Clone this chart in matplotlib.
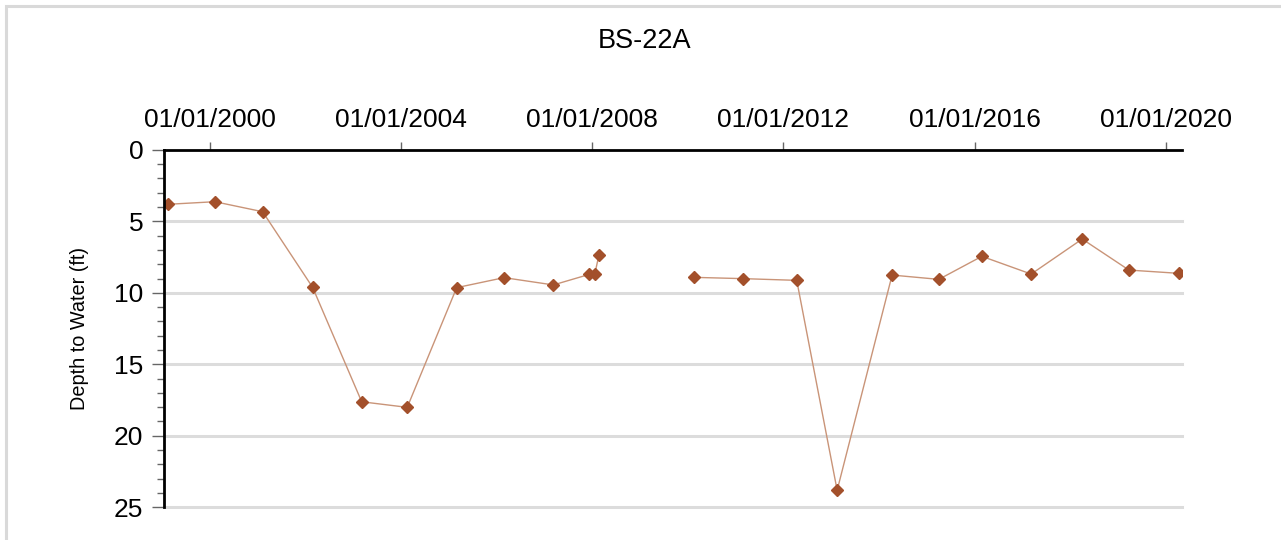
import numpy as np
import pandas as pd
import matplotlib
matplotlib.use("Agg")
import matplotlib.pyplot as plt
import matplotlib.dates as mdates
from matplotlib.patches import Rectangle
from matplotlib.ticker import MultipleLocator

plt.rcParams['font.family'] = ['Liberation Sans', 'DejaVu Sans']

title = "BS-22A"
ylabel = "Depth to Water (ft)"

dates = ["1999-02-16", "2000-02-08", "2001-02-07", "2002-02-24", "2003-03-06",
         "2004-02-17", "2005-03-01", "2006-02-26", "2007-03-10", "2007-12-10",
         "2008-01-20", "2008-02-22",
         "2010-02-17", "2011-03-01", "2012-04-12", "2013-02-15", "2014-04-11",
         "2015-04-03", "2016-02-26", "2017-03-09", "2018-04-03", "2019-03-26",
         "2020-04-11"]
depth = [3.81, 3.63, 4.33, 9.62, 17.62,
         18.01, 9.64, 8.94, 9.45, 8.71,
         8.71, 7.33,
         8.92, 9.01, 9.13, 23.81, 8.76,
         9.06, 7.45, 8.69, 6.24, 8.41,
         8.64]

xstart = "1999-01-15"
xend = "2020-05-07"
tick_years = [2000, 2004, 2008, 2012, 2016, 2020]

t = pd.to_datetime(dates)
d = np.array(depth)

# break the line where there is a long gap between readings
gaps = np.where(np.diff(t.values).astype('timedelta64[D]').astype(int) > 500)[0] + 1
segs = np.split(np.arange(len(d)), gaps)

fig = plt.figure(figsize=(12.81, 5.40), dpi=100)
ax = fig.add_axes([164 / 1281, 1 - 507.3 / 540, (1182.3 - 164) / 1281, (507.3 - 149.8) / 540])

line_c = '#c99478'
mark_c = '#a3502b'
for s in segs:
    ax.plot(t[s], d[s], color=line_c, lw=1.0, zorder=3)
ax.plot(t, d, ls='none', marker='D', ms=6, color=mark_c, zorder=4)

ax.set_ylim(25, 0)
ax.set_xlim(pd.Timestamp(xstart), pd.Timestamp(xend))

ax.yaxis.set_major_locator(MultipleLocator(5))
ax.yaxis.set_minor_locator(MultipleLocator(1))
ax.set_xticks([pd.Timestamp(f"{y}-01-01") for y in tick_years])
ax.xaxis.set_major_formatter(mdates.DateFormatter('%m/%d/%Y'))
ax.xaxis.tick_top()

for y in [5, 10, 15, 20, 25]:
    ax.axhline(y, color='#dcdcdc', lw=2.2, zorder=1, clip_on=False)

for side in ['right', 'bottom']:
    ax.spines[side].set_visible(False)
for side in ['top', 'left']:
    ax.spines[side].set_linewidth(2)
    ax.spines[side].set_color('black')
    ax.spines[side].set_zorder(5)

ax.tick_params(axis='y', which='major', length=9, width=1, color='#666666',
               labelsize=19, pad=6)
ax.tick_params(axis='y', which='minor', length=5, width=1, color='#666666')
ax.tick_params(axis='x', which='major', length=6, width=1, color='#666666',
               labelsize=19, pad=7, top=True, bottom=False)

ax.set_ylabel(ylabel, fontsize=14.3, labelpad=18)
fig.text(644.5 / 1281, 1 - 41 / 540, title, ha='center', va='center', fontsize=19.5)

fig.patches.append(Rectangle((5.5 / 1281, -0.1), 1.2, 1.1 - 6 / 540,
                             transform=fig.transFigure, fill=False,
                             edgecolor='#d9d9d9', lw=2.2, figure=fig))

fig.savefig("out.png", dpi=100)
